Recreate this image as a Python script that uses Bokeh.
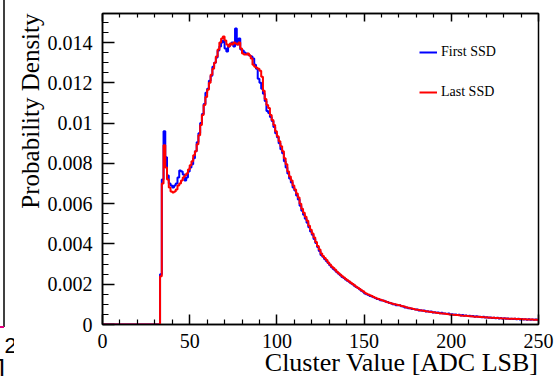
import numpy as np
from bokeh.plotting import figure
from bokeh.layouts import row
from bokeh.models import Range1d, LinearAxis, Legend, LegendItem, FixedTicker, Div, Title
from bokeh.embed import file_html
from bokeh.resources import INLINE

# ---------------- data (probability density per 1-ADC bin, in units of 1e-5) ----------------
first_bin = 30  # bins below 30 are empty
first_ssd = [
    0, 0, 0, 250, 720, 960, 830, 740, 700, 690,
    680, 690, 700, 730, 765, 760, 745, 715, 730, 760,
    780, 795, 825, 860, 905, 950, 1000, 1045, 1095, 1150,
    1170, 1210, 1235, 1280, 1300, 1325, 1360, 1380, 1400, 1410,
    1370, 1355, 1380, 1390, 1400, 1380, 1470, 1390, 1420, 1365,
    1360, 1350, 1345, 1340, 1335, 1330, 1320, 1290, 1270, 1220,
    1200, 1170, 1145, 1110, 1060, 1050, 1030, 1010, 980, 950,
    930, 900, 870, 850, 810, 780, 750, 725, 705, 680,
    665, 640, 620, 590, 565, 545, 525, 505, 483, 462,
    445, 425, 405, 385, 365, 345, 336, 325, 315, 305,
    294, 284, 276, 268, 259, 252, 244, 236, 231, 224,
    217, 212, 205, 200, 193, 186, 181, 175, 167, 163,
    154, 150, 147, 142, 139, 135, 132, 127, 125, 121,
    119, 118, 113, 112, 107, 106, 101, 100, 96, 95,
    95, 90, 89, 85, 85, 81, 81, 77, 77, 74,
    74, 70, 71, 68, 69, 65, 66, 63, 64, 60,
    61, 58, 59, 56, 58, 54, 55, 52, 54, 50,
    51, 48, 50, 47, 48, 45, 47, 44, 45, 42,
    43, 41, 42, 39, 41, 38, 39, 36, 38, 35,
    36, 34, 35, 32, 34, 31, 33, 30, 32, 29,
    31, 28, 30, 27, 29, 27, 28, 26, 28, 25,
    27, 25, 26, 24, 26, 24, 25, 23, 25, 24,
]
last_ssd = [
    0, 0, 0, 240, 700, 890, 780, 720, 680, 660,
    655, 660, 670, 690, 700, 715, 730, 740, 750, 770,
    790, 810, 840, 860, 895, 940, 990, 1040, 1090, 1130,
    1165, 1200, 1240, 1270, 1300, 1330, 1365, 1400, 1420, 1430,
    1410, 1390, 1380, 1395, 1390, 1400, 1395, 1390, 1400, 1370,
    1345, 1340, 1340, 1345, 1335, 1320, 1290, 1280, 1275, 1270,
    1260, 1230, 1160, 1120, 1090, 1075, 1040, 1015, 990, 960,
    935, 910, 885, 860, 825, 795, 760, 735, 715, 690,
    670, 650, 630, 600, 575, 555, 535, 515, 490, 470,
    452, 432, 410, 390, 372, 352, 340, 330, 320, 308,
    298, 288, 280, 272, 262, 255, 247, 239, 233, 226,
    220, 214, 207, 201, 195, 188, 182, 176, 170, 165,
    158, 153, 149, 145, 141, 137, 133, 129, 126, 123,
    120, 117, 114, 111, 108, 106, 103, 101, 99, 97,
    95, 92, 90, 88, 85, 83, 81, 79, 77, 75,
    73, 72, 70, 69, 67, 66, 64, 63, 62, 61,
    59, 58, 57, 56, 55, 54, 53, 52, 51, 50,
    49, 48, 47, 47, 46, 45, 44, 44, 43, 42,
    41, 41, 40, 39, 39, 38, 37, 37, 36, 36,
    35, 35, 34, 33, 33, 32, 32, 31, 31, 30,
    30, 30, 29, 29, 28, 28, 28, 27, 27, 27,
    26, 26, 26, 25, 25, 25, 25, 24, 24, 24,
]
series_names = ["First SSD", "Last SSD"]
series_colors = ["#0000ff", "#ff0000"]

x_ticks = [0, 50, 100, 150, 200, 250]
x_tick_labels = ["0", "50", "100", "150", "200", "250"]
y_ticks = [0.0, 0.002, 0.004, 0.006, 0.008, 0.01, 0.012, 0.014]
y_tick_labels = ["0", "0.002", "0.004", "0.006", "0.008", "0.01", "0.012", "0.014"]
x_title = "Cluster Value [ADC LSB]"
y_title = "Probability Density"

# texts of the neighbouring panel that is cut off at the left edge of the picture
edge_texts = ["2", "]"]

X_MAX = 250
Y_MAX = 0.01544

FONT = "Liberation Serif"
H = 376
SW = 14

# ---------------- left sliver: edge of the neighbouring panel ----------------
sliver_svg = (
    f'<svg xmlns="http://www.w3.org/2000/svg" width="{SW}" height="{H}" '
    f'style="display:block;background:white">'
    f'<line x1="4" y1="0" x2="4" y2="327" stroke="black" stroke-width="1.5"/>'
    f'<line x1="0" y1="327" x2="4" y2="327" stroke="#e6007e" stroke-width="2"/>'
    f'<text x="4.5" y="353" font-family="{FONT}" font-size="22" fill="black">{edge_texts[0]}</text>'
    f'<text x="5" y="378" text-anchor="end" font-family="{FONT}" font-size="26" fill="black">{edge_texts[1]}</text>'
    f'</svg>'
)
sliver = Div(text=sliver_svg, width=SW, height=H, margin=0)

# ---------------- main figure ----------------
W = 556 - SW
ML, MR, MT, MB = 100 - SW, 18, 13, 52

p = figure(width=W, height=H, output_backend="svg", toolbar_location=None,
           x_range=Range1d(0, X_MAX), y_range=Range1d(0, Y_MAX),
           min_border_left=ML, min_border_right=MR, min_border_top=MT, min_border_bottom=MB,
           x_axis_location=None, y_axis_location=None)
p.grid.visible = False
p.outline_line_color = "black"
p.outline_line_width = 1.5
p.background_fill_color = "white"
p.border_fill_color = "white"

edges = np.arange(0, X_MAX + 1)
renderers = []
for vals, color in zip([first_ssd, last_ssd], series_colors):
    full = np.concatenate([np.zeros(first_bin), np.array(vals, dtype=float)]) * 1e-5
    yy = np.append(full, full[-1])
    r = p.step(x=edges, y=yy, mode="after", line_color=color, line_width=2)
    renderers.append(r)

x_minor = [v for v in range(0, X_MAX + 1, 10) if v not in x_ticks]
y_minor = [round(v * 0.0005, 6) for v in range(0, 31) if v % 4 != 0]

# bottom axis
xb = LinearAxis(ticker=FixedTicker(ticks=x_ticks, minor_ticks=x_minor),
                major_label_overrides={t: l for t, l in zip(x_ticks, x_tick_labels)})
xb.major_tick_in = 10
xb.major_tick_out = 0
xb.minor_tick_in = 5
xb.minor_tick_out = 0
xb.major_tick_line_width = 1.5
xb.minor_tick_line_width = 1.2
xb.axis_line_width = 1.5
xb.major_label_standoff = 9
xb.major_label_text_font = FONT
xb.major_label_text_font_size = "20px"
xb.major_label_text_color = "black"
p.add_layout(xb, "below")

# top axis (ticks only)
xt = LinearAxis(ticker=FixedTicker(ticks=x_ticks, minor_ticks=x_minor))
xt.major_tick_in = 8
xt.major_tick_out = 0
xt.minor_tick_in = 4
xt.minor_tick_out = 0
xt.major_tick_line_width = 1.5
xt.minor_tick_line_width = 1.2
xt.axis_line_width = 1.5
xt.major_label_text_font_size = "0px"
xt.major_label_standoff = 0
p.add_layout(xt, "above")

# left axis
yl = LinearAxis(ticker=FixedTicker(ticks=y_ticks, minor_ticks=y_minor),
                major_label_overrides={t: l for t, l in zip(y_ticks, y_tick_labels)})
yl.major_tick_in = 12
yl.major_tick_out = 0
yl.minor_tick_in = 6
yl.minor_tick_out = 0
yl.major_tick_line_width = 1.5
yl.minor_tick_line_width = 1.2
yl.axis_line_width = 1.5
yl.major_label_standoff = 10
yl.major_label_text_font = FONT
yl.major_label_text_font_size = "20px"
yl.major_label_text_color = "black"
p.add_layout(yl, "left")

# axis titles, aligned to the far end of each axis (ROOT style)
p.add_layout(Title(text=x_title, align="right", standoff=-10, text_font=FONT,
                   text_font_style="normal", text_font_size="26px", text_color="black"), "below")
p.add_layout(Title(text=y_title, align="right", standoff=1, text_font=FONT,
                   text_font_style="normal", text_font_size="25px", text_color="black"), "left")

legend = Legend(items=[LegendItem(label=n, renderers=[r]) for n, r in zip(series_names, renderers)],
                location=(317, 222))
legend.border_line_color = None
legend.background_fill_alpha = 0
legend.padding = 0
legend.margin = 0
legend.spacing = 20
legend.glyph_width = 18
legend.glyph_height = 20
legend.label_height = 20
legend.label_standoff = 4
legend.label_text_font = FONT
legend.label_text_font_size = "14px"
legend.label_text_color = "black"
p.add_layout(legend, "center")

layout = row(sliver, p, spacing=0)
open("out.html", "w").write(file_html(layout, INLINE))
